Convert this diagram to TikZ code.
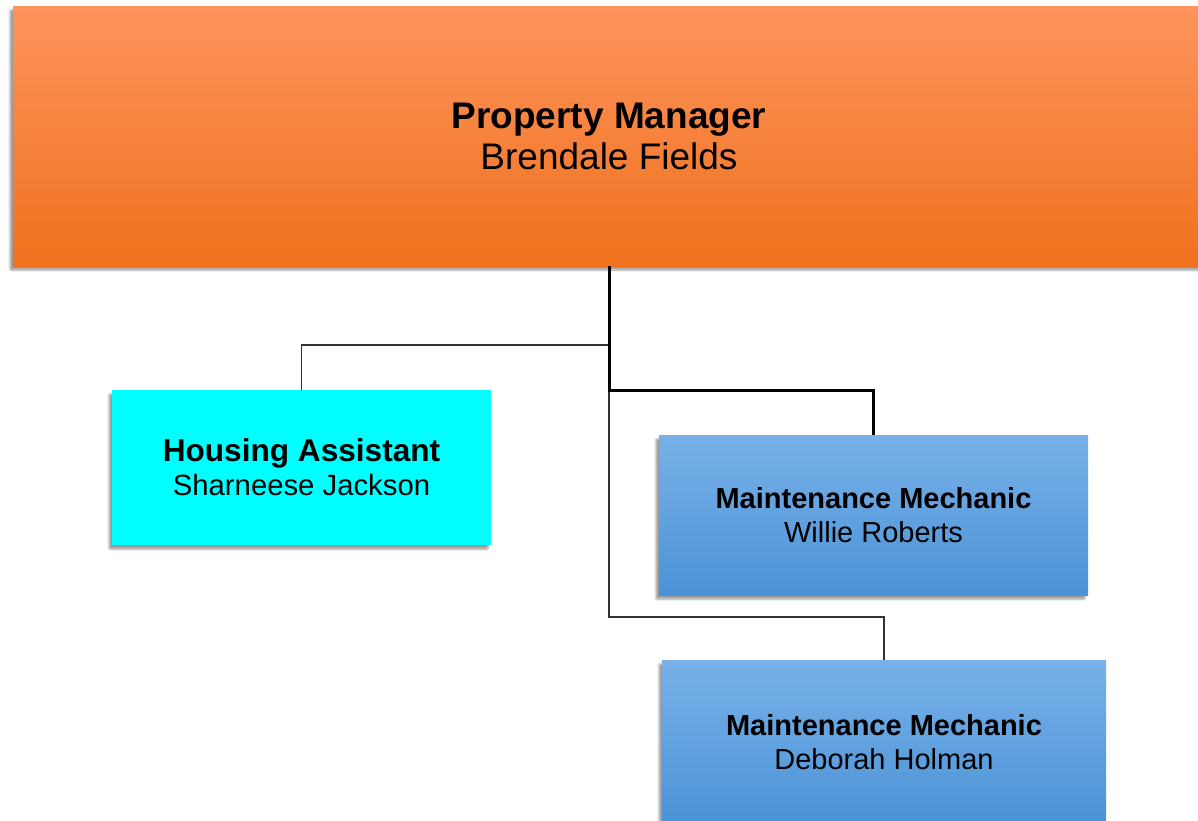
\documentclass[tikz,border=0pt]{standalone}
\usepackage{fontspec}
\setmainfont{Liberation Sans}
\usetikzlibrary{shadows.blur}
\definecolor{orTop}{RGB}{254,148,92}
\definecolor{orMid}{RGB}{253,130,44}
\definecolor{orBot}{RGB}{239,113,30}
\definecolor{blTop}{RGB}{121,177,233}
\definecolor{blMid}{RGB}{96,164,228}
\definecolor{blBot}{RGB}{74,147,214}
\definecolor{cyanbox}{RGB}{0,255,255}
\definecolor{thinline}{RGB}{50,50,50}
\tikzset{
  box/.style={rectangle, inner sep=0pt, align=center, text=black,
    blur shadow={shadow xshift=-3pt, shadow yshift=-4pt, shadow blur steps=6, shadow blur extra rounding=1pt}},
  orangebox/.style={box, top color=orTop, middle color=orMid, bottom color=orBot,
    font=\fontsize{37}{41}\selectfont},
  bluebox/.style={box, top color=blTop, middle color=blMid, bottom color=blBot,
    font=\fontsize{29}{34}\selectfont},
  cyanbx/.style={box, fill=cyanbox, font=\fontsize{29.3}{34}\selectfont},
  thickcon/.style={draw=black, line width=3pt},
  thincon/.style={draw=thinline, line width=1.3pt},
}
\begin{document}
\begin{tikzpicture}[x=1pt,y=-1pt]
\useasboundingbox (0,0) rectangle (1198,820);
\node[orangebox, minimum width=1192pt, minimum height=260pt] (pm) at (609,136)
  {\textbf{Property Manager}\\Brendale Fields};
\node[cyanbx, minimum width=379pt, minimum height=155pt] (ha) at (301.5,467.5)
  {{\fontsize{31.6}{34}\selectfont\textbf{Housing Assistant}}\\Sharneese Jackson};
\node[bluebox, minimum width=429pt, minimum height=160pt] (mm1) at (873.5,515)
  {\textbf{Maintenance Mechanic}\\Willie Roberts};
\node[bluebox, minimum width=444pt, minimum height=164pt] (mm2) at (884,742)
  {\textbf{Maintenance Mechanic}\\Deborah Holman};
\coordinate (bha) at (609,345);
\coordinate (bm1) at (609,390);
\coordinate (bm2) at (609,617);
\draw[thincon] (pm.south) -- (bm2) -| (mm2.north);
\draw[thincon] (bha) -| (ha.north);
\draw[thickcon] (pm.south) -- (bm1) -| (mm1.north);
\end{tikzpicture}
\end{document}
